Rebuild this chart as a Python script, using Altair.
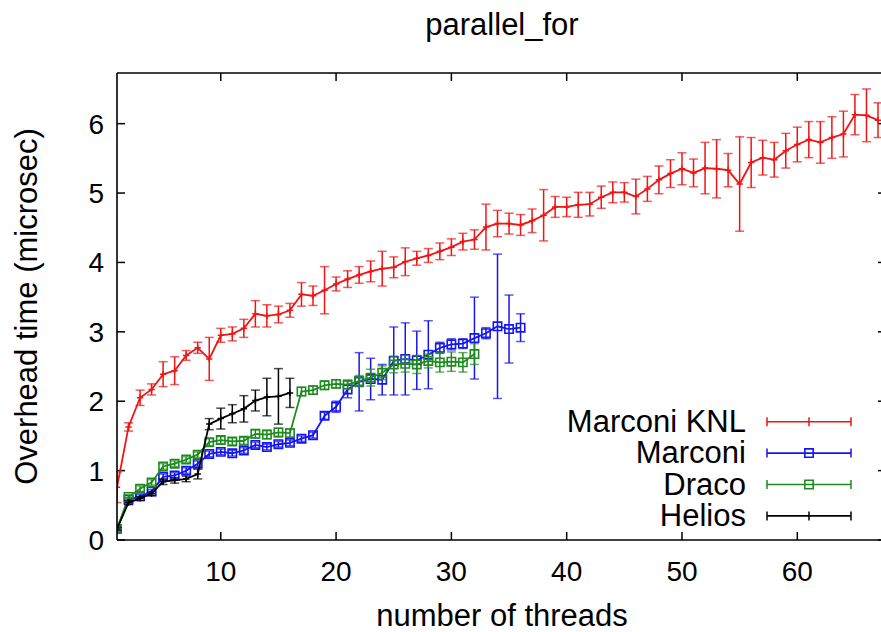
import altair as alt
import pandas as pd

FONT = "Liberation Sans"

# ---- data: mean overhead (microsec) and error half-widths per thread count ----
series_names = ["Marconi KNL", "Marconi", "Draco", "Helios"]
series_colors = ["#f01515", "#1515f0", "#1f8a1f", "#000000"]
series_marker = ["plus", "square", "square", "plus"]

knl_mean = [0.76, 1.63, 2.05, 2.17, 2.39, 2.44, 2.66, 2.77, 2.61, 2.95,
            2.97, 3.05, 3.26, 3.23, 3.25, 3.31, 3.54, 3.52, 3.60, 3.69,
            3.76, 3.82, 3.87, 3.91, 3.93, 4.01, 4.06, 4.10, 4.16, 4.22,
            4.30, 4.33, 4.51, 4.56, 4.56, 4.54, 4.60, 4.68, 4.80, 4.80,
            4.83, 4.84, 4.94, 5.01, 5.01, 4.95, 5.06, 5.19, 5.28, 5.35,
            5.29, 5.36, 5.35, 5.33, 5.13, 5.44, 5.51, 5.48, 5.61, 5.70,
            5.77, 5.73, 5.80, 5.85, 6.13, 6.12, 6.05]
knl_err = [0.22, 0.06, 0.11, 0.08, 0.18, 0.20, 0.07, 0.08, 0.31, 0.10,
           0.10, 0.13, 0.19, 0.16, 0.12, 0.10, 0.17, 0.14, 0.34, 0.10,
           0.12, 0.12, 0.15, 0.25, 0.15, 0.20, 0.10, 0.10, 0.12, 0.12,
           0.12, 0.14, 0.33, 0.19, 0.15, 0.15, 0.17, 0.37, 0.15, 0.14,
           0.18, 0.17, 0.16, 0.15, 0.14, 0.25, 0.18, 0.20, 0.20, 0.23,
           0.20, 0.37, 0.42, 0.24, 0.68, 0.36, 0.25, 0.25, 0.25, 0.25,
           0.26, 0.30, 0.30, 0.33, 0.29, 0.38, 0.25]

marconi_mean = [0.16, 0.58, 0.63, 0.70, 0.91, 0.93, 1.00, 1.10, 1.24, 1.27,
                1.25, 1.29, 1.37, 1.34, 1.38, 1.40, 1.46, 1.51, 1.79, 1.92,
                2.17, 2.28, 2.32, 2.31, 2.58, 2.61, 2.59, 2.67, 2.77, 2.82,
                2.83, 2.91, 2.98, 3.08, 3.04, 3.06]
marconi_err = [0.03, 0.03, 0.03, 0.03, 0.04, 0.04, 0.04, 0.04, 0.04, 0.04,
               0.04, 0.04, 0.04, 0.04, 0.04, 0.04, 0.04, 0.04, 0.05, 0.08,
               0.12, 0.42, 0.30, 0.22, 0.49, 0.52, 0.42, 0.49, 0.08, 0.08,
               0.07, 0.59, 0.08, 1.04, 0.49, 0.20]

draco_mean = [0.16, 0.62, 0.74, 0.83, 1.06, 1.10, 1.16, 1.23, 1.41, 1.44,
              1.42, 1.43, 1.53, 1.52, 1.55, 1.54, 2.14, 2.16, 2.23, 2.25,
              2.24, 2.29, 2.34, 2.41, 2.53, 2.54, 2.53, 2.58, 2.56, 2.57,
              2.56, 2.68]
draco_err = [0.03, 0.03, 0.04, 0.04, 0.04, 0.04, 0.04, 0.04, 0.05, 0.05,
             0.05, 0.05, 0.06, 0.06, 0.06, 0.06, 0.06, 0.06, 0.06, 0.06,
             0.06, 0.08, 0.12, 0.10, 0.12, 0.12, 0.13, 0.10, 0.14, 0.14,
             0.14, 0.15]

helios_mean = [0.16, 0.54, 0.60, 0.67, 0.84, 0.86, 0.88, 0.95, 1.67, 1.75,
               1.82, 1.89, 2.01, 2.06, 2.07, 2.12]
helios_err = [0.02, 0.03, 0.03, 0.03, 0.04, 0.04, 0.04, 0.07, 0.08, 0.15,
              0.13, 0.19, 0.15, 0.27, 0.40, 0.21]

x_ticks = [10, 20, 30, 40, 50, 60]
y_ticks = [0, 1, 2, 3, 4, 5, 6]

chart_title = "parallel_for"
x_title = "number of threads"
y_title = "Overhead time (microsec)"

# ---- layout (plot area in pixels, origin at its top-left corner) ----
W, H = 764, 467
X_MIN, X_MAX = 1, 67.26
Y_MIN, Y_MAX = 0, 6.73
TICK = 8
CENTER_X = 385          # horizontal centre of the full frame (its right edge runs off-page)

rows = []
for name, means, errs in zip(series_names,
                             [knl_mean, marconi_mean, draco_mean, helios_mean],
                             [knl_err, marconi_err, draco_err, helios_err]):
    for t, (m, e) in enumerate(zip(means, errs), start=1):
        rows.append({"series": name, "threads": t, "mean": m,
                     "lo": m - e, "hi": m + e})
df = pd.DataFrame(rows)

x_scale = alt.Scale(domain=[X_MIN, X_MAX], nice=False, zero=False)
y_scale = alt.Scale(domain=[Y_MIN, Y_MAX], nice=False, zero=False)


def X(field):
    return alt.X(field, scale=x_scale, axis=None)


def Y(field):
    return alt.Y(field, scale=y_scale, axis=None)


PLUS = "M-1,0H1M0,-1V1"

layers = []

# ---- inward tick marks on all four sides ----
xt = alt.Chart(pd.DataFrame({"v": x_ticks}))
yt = alt.Chart(pd.DataFrame({"v": y_ticks}))
tick_style = dict(color="black", strokeWidth=1.5)
layers.append(xt.mark_rule(**tick_style).encode(
    x=X("v:Q"), y=alt.value(H), y2=alt.value(H - TICK)))
layers.append(xt.mark_rule(**tick_style).encode(
    x=X("v:Q"), y=alt.value(0), y2=alt.value(TICK)))
layers.append(yt.mark_rule(**tick_style).encode(
    y=Y("v:Q"), x=alt.value(0), x2=alt.value(TICK)))
layers.append(yt.mark_rule(**tick_style).encode(
    y=Y("v:Q"), x=alt.value(W - 3), x2=alt.value(W)))

# ---- tick labels ----
label_style = dict(font=FONT, fontSize=28, color="black")
layers.append(xt.mark_text(align="center", baseline="alphabetic", **label_style).encode(
    x=X("v:Q"), y=alt.value(H + 41), text="v:Q"))
layers.append(yt.mark_text(align="right", baseline="alphabetic", dy=10, **label_style).encode(
    y=Y("v:Q"), x=alt.value(-13), text="v:Q"))

# ---- series: line, error bars with caps, point markers ----
for name, color, marker in zip(series_names, series_colors, series_marker):
    d = alt.Chart(df).transform_filter(alt.datum.series == name)
    line = d.mark_line(color=color, strokeWidth=1.8, clip=True).encode(
        x=X("threads:Q"), y=Y("mean:Q"))
    bars = d.mark_rule(color=color, strokeWidth=1.5, clip=True).encode(
        x=X("threads:Q"), y=Y("lo:Q"), y2="hi:Q")
    cap_hi = d.mark_tick(color=color, orient="horizontal", size=9, thickness=1.5,
                         clip=True).encode(x=X("threads:Q"), y=Y("hi:Q"))
    cap_lo = d.mark_tick(color=color, orient="horizontal", size=9, thickness=1.5,
                         clip=True).encode(x=X("threads:Q"), y=Y("lo:Q"))
    if marker == "square":
        pts = d.mark_point(shape="square", filled=False, size=70, strokeWidth=1.6,
                           color=color, opacity=1, clip=True)
    else:
        pts = d.mark_point(shape=PLUS, filled=False, size=40, strokeWidth=1.5,
                           color=color, opacity=1, clip=True)
    pts = pts.encode(x=X("threads:Q"), y=Y("mean:Q"))
    layers += [line, bars, cap_hi, cap_lo, pts]

# ---- frame (left, top, bottom edges) ----
frame = alt.Chart(pd.DataFrame({"k": [0]}))
layers.append(frame.mark_rule(color="black", strokeWidth=1.6).encode(
    x=alt.value(0), x2=alt.value(W + 2), y=alt.value(0)))
layers.append(frame.mark_rule(color="black", strokeWidth=1.6).encode(
    x=alt.value(0), x2=alt.value(W + 2), y=alt.value(H)))
layers.append(frame.mark_rule(color="black", strokeWidth=1.6).encode(
    x=alt.value(0), y=alt.value(0), y2=alt.value(H)))

# ---- titles ----
text_style = dict(font=FONT, fontSize=31, color="black", fontWeight="normal")
titles = alt.Chart(pd.DataFrame({
    "label": [chart_title, x_title, y_title],
    "kind": ["title", "x", "y"],
}))
layers.append(titles.transform_filter(alt.datum.kind == "title").mark_text(
    align="center", baseline="alphabetic", **text_style).encode(
    x=alt.value(CENTER_X), y=alt.value(-38), text="label:N"))
layers.append(titles.transform_filter(alt.datum.kind == "x").mark_text(
    align="center", baseline="alphabetic", **text_style).encode(
    x=alt.value(CENTER_X), y=alt.value(H + 86), text="label:N"))
layers.append(titles.transform_filter(alt.datum.kind == "y").mark_text(
    align="center", baseline="alphabetic", angle=270, **text_style).encode(
    x=alt.value(-80), y=alt.value(H / 2), text="label:N"))

# ---- key in the lower right corner ----
KEY_TEXT_X = 629
KEY_X0, KEY_X1, KEY_MID = 650, 734, 692
KEY_Y0, KEY_DY = 348.7, 31.4
for i, (name, color, marker) in enumerate(zip(series_names, series_colors, series_marker)):
    yk = KEY_Y0 + i * KEY_DY
    kd = alt.Chart(pd.DataFrame({"series": [name]}))
    layers.append(kd.mark_text(align="right", baseline="middle", font=FONT,
                               fontSize=31, color="black", dy=1).encode(
        x=alt.value(KEY_TEXT_X), y=alt.value(yk), text="series:N"))
    layers.append(kd.mark_rule(color=color, strokeWidth=1.6).encode(
        x=alt.value(KEY_X0), x2=alt.value(KEY_X1), y=alt.value(yk)))
    for xc in (KEY_X0, KEY_X1):
        layers.append(kd.mark_rule(color=color, strokeWidth=1.5).encode(
            x=alt.value(xc), y=alt.value(yk - 4.5), y2=alt.value(yk + 4.5)))
    if marker == "square":
        layers.append(kd.mark_point(shape="square", filled=False, size=70,
                                    strokeWidth=1.6, color=color, opacity=1).encode(
            x=alt.value(KEY_MID), y=alt.value(yk)))
    else:
        layers.append(kd.mark_rule(color=color, strokeWidth=1.5).encode(
            x=alt.value(KEY_MID), y=alt.value(yk - 4.5), y2=alt.value(yk + 4.5)))

chart = alt.layer(*layers).properties(
    width=W,
    height=H,
    autosize=alt.AutoSizeParams(type="none"),
    padding={"left": 117, "top": 73, "right": 0, "bottom": 92},
).configure_view(stroke=None)

chart.save("out.html", embed_options={"renderer": "svg", "actions": False})
